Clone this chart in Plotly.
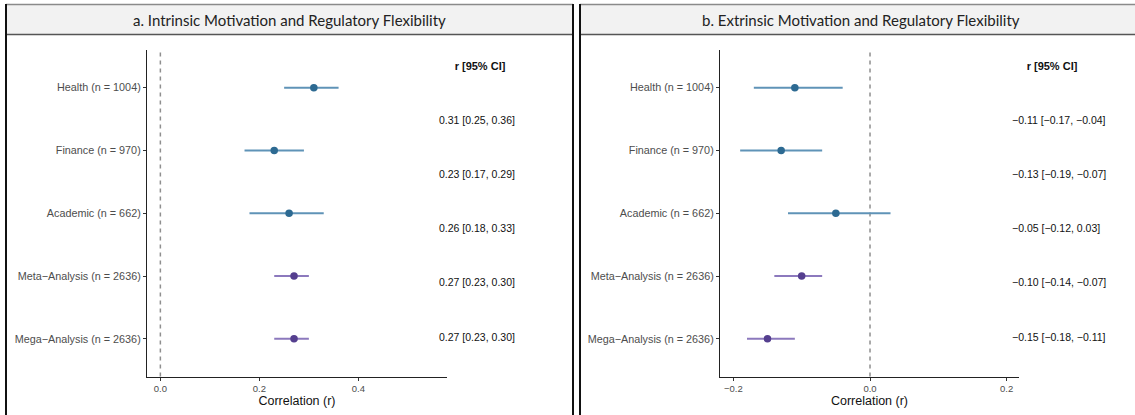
import plotly.graph_objects as go

# ---------------- data ----------------
studies = ["Health (n = 1004)", "Finance (n = 970)", "Academic (n = 662)",
           "Meta\u2212Analysis (n = 2636)", "Mega\u2212Analysis (n = 2636)"]
is_pooled = [False, False, False, True, True]

intr_r = [0.31, 0.23, 0.26, 0.27, 0.27]
intr_lo = [0.25, 0.17, 0.18, 0.23, 0.23]
intr_hi = [0.36, 0.29, 0.33, 0.30, 0.30]
intr_lbl = ["0.31 [0.25, 0.36]", "0.23 [0.17, 0.29]", "0.26 [0.18, 0.33]",
            "0.27 [0.23, 0.30]", "0.27 [0.23, 0.30]"]

extr_r = [-0.11, -0.13, -0.05, -0.10, -0.15]
extr_lo = [-0.17, -0.19, -0.12, -0.14, -0.18]
extr_hi = [-0.04, -0.07, 0.03, -0.07, -0.11]
extr_lbl = ["\u22120.11 [\u22120.17, \u22120.04]", "\u22120.13 [\u22120.19, \u22120.07]",
            "\u22120.05 [\u22120.12, 0.03]", "\u22120.10 [\u22120.14, \u22120.07]",
            "\u22120.15 [\u22120.18, \u22120.11]"]

table_header = "r [95% CI]"
titles = ["a. Intrinsic Motivation and Regulatory Flexibility",
          "b. Extrinsic Motivation and Regulatory Flexibility"]
x_title = "Correlation (r)"
xticks_a = [0.0, 0.2, 0.4]
xticks_b = [-0.2, 0.0, 0.2]

# ---------------- layout helpers ----------------
W, H = 1135, 415
def px(x): return x / W
def py(y): return 1 - y / H

BLUE_DOT, BLUE_LINE = "#2d6a92", "#5f93b7"
PURP_DOT, PURP_LINE = "#553f8f", "#8c79bd"
FONT = "Liberation Sans, Arial, Helvetica, sans-serif"

fig = go.Figure()

panels = [
    dict(r=intr_r, lo=intr_lo, hi=intr_hi, lbl=intr_lbl, xr=[-0.027, 0.579], ticks=xticks_a,
         plot_x=(147, 447), tab_x=(430, 565), val_x=439, head_x=480, ax="", tax="3"),
    dict(r=extr_r, lo=extr_lo, hi=extr_hi, lbl=extr_lbl, xr=[-0.2195, 0.218], ticks=xticks_b,
         plot_x=(720, 1019), tab_x=(1000, 1130), val_x=1012, head_x=1052, ax="2", tax="4"),
]

cat_order = studies[::-1]
PLOT_TOP, PLOT_BOT = 50, 376.5

for p in panels:
    xa = "x" + p["ax"]; ya = "y" + p["ax"]
    for pooled, dot, line in [(False, BLUE_DOT, BLUE_LINE), (True, PURP_DOT, PURP_LINE)]:
        idx = [i for i in range(len(studies)) if is_pooled[i] == pooled]
        fig.add_trace(go.Scatter(
            x=[p["r"][i] for i in idx], y=[studies[i] for i in idx],
            mode="markers", xaxis=xa, yaxis=ya, showlegend=False,
            marker=dict(color=dot, size=7.5),
            error_x=dict(type="data", symmetric=False,
                         array=[p["hi"][i] - p["r"][i] for i in idx],
                         arrayminus=[p["r"][i] - p["lo"][i] for i in idx],
                         color=line, thickness=2, width=0),
        ))
    # table text
    txa = "x" + p["tax"]; tya = "y" + p["tax"]
    fig.add_trace(go.Scatter(
        x=[p["val_x"]] * len(studies), y=list(range(len(studies), 0, -1)),
        text=p["lbl"], mode="text", textposition="middle right",
        textfont=dict(family=FONT, size=10.5, color="#111111"),
        xaxis=txa, yaxis=tya, showlegend=False, hoverinfo="skip"))
    fig.add_trace(go.Scatter(
        x=[p["head_x"]], y=[len(studies) + 1], text=["<b>" + table_header + "</b>"],
        mode="text", textposition="middle center",
        textfont=dict(family=FONT, size=11, color="#111111"),
        xaxis=txa, yaxis=tya, showlegend=False, hoverinfo="skip"))

    # zero reference line
    fig.add_shape(type="line", xref=xa, yref=ya + " domain", x0=0, x1=0, y0=0, y1=1,
                  line=dict(color="#8f8f8f", width=1.5, dash="4px,4px"), layer="below")

layout = dict(width=W, height=H, margin=dict(l=0, r=0, t=0, b=0),
              paper_bgcolor="white", plot_bgcolor="white", showlegend=False)

for p in panels:
    n = p["ax"]; tn = p["tax"]
    xkey = "xaxis" + n; ykey = "yaxis" + n
    layout[xkey] = dict(domain=[px(p["plot_x"][0]), px(p["plot_x"][1])], range=p["xr"],
                        anchor="y" + n, tickvals=p["ticks"],
                        ticktext=[("\u2212" if t < 0 else "") + f"{abs(t):.1f}" for t in p["ticks"]],
                        showline=True, linecolor="#222", linewidth=1.2, ticks="outside",
                        ticklen=3, tickcolor="#333", tickwidth=1, showgrid=False, zeroline=False,
                        tickfont=dict(family=FONT, size=9.5, color="#4d4d4d"),
                        title=dict(text=x_title, font=dict(family=FONT, size=12.5, color="#111"),
                                   standoff=0))
    layout[ykey] = dict(domain=[py(PLOT_BOT), py(PLOT_TOP)], anchor="x" + n,
                        type="category", categoryorder="array", categoryarray=cat_order,
                        range=[-0.6, 4.6], showline=True, linecolor="#222", linewidth=1.2,
                        ticks="outside", ticklen=3, tickcolor="#333", tickwidth=1,
                        showgrid=False, zeroline=False,
                        tickfont=dict(family=FONT, size=10.8, color="#4d4d4d"))
    layout["xaxis" + tn] = dict(domain=[px(p["tab_x"][0]), px(p["tab_x"][1])],
                                range=list(p["tab_x"]), anchor="y" + tn, visible=False)
    layout["yaxis" + tn] = dict(domain=[py(PLOT_BOT), py(PLOT_TOP)], range=[0.29, 6.31],
                                anchor="x" + tn, visible=False)

fig.update_layout(**layout)

# panel frames and headers
shapes = []
annotations = []
for (x0, x1), title in zip([(6, 573), (580, 1140)], titles):
    shapes.append(dict(type="rect", xref="paper", yref="paper", x0=px(x0), x1=px(x1),
                       y0=py(4.5), y1=py(34.5), fillcolor="#f2f2f2",
                       line=dict(width=0), layer="below"))
    shapes.append(dict(type="line", xref="paper", yref="paper", x0=px(x0), x1=px(x1),
                       y0=py(4.5), y1=py(4.5), line=dict(color="#8a8a8a", width=1.5)))
    shapes.append(dict(type="line", xref="paper", yref="paper", x0=px(x0), x1=px(x1),
                       y0=py(34.5), y1=py(34.5), line=dict(color="#555555", width=1.5)))
    for xx in (x0, x1):
        shapes.append(dict(type="line", xref="paper", yref="paper", x0=px(xx), x1=px(xx),
                           y0=py(4), y1=py(420), line=dict(color="#111111", width=2)))
    cx = (x0 + x1) / 2 if x1 < W else (x0 + W + 6) / 2
    annotations.append(dict(text=title, xref="paper", yref="paper", x=px(cx),
                            y=py(19.5), showarrow=False, xanchor="center", yanchor="middle",
                            font=dict(family="Lato, Noto Sans, sans-serif", size=15, color="#222")))

fig.update_layout(shapes=list(fig.layout.shapes) + shapes, annotations=annotations)

fig.write_html("out.html", config={"displayModeBar": False},
               post_script="document.body.style.margin='0px';document.body.style.overflow='hidden';")
